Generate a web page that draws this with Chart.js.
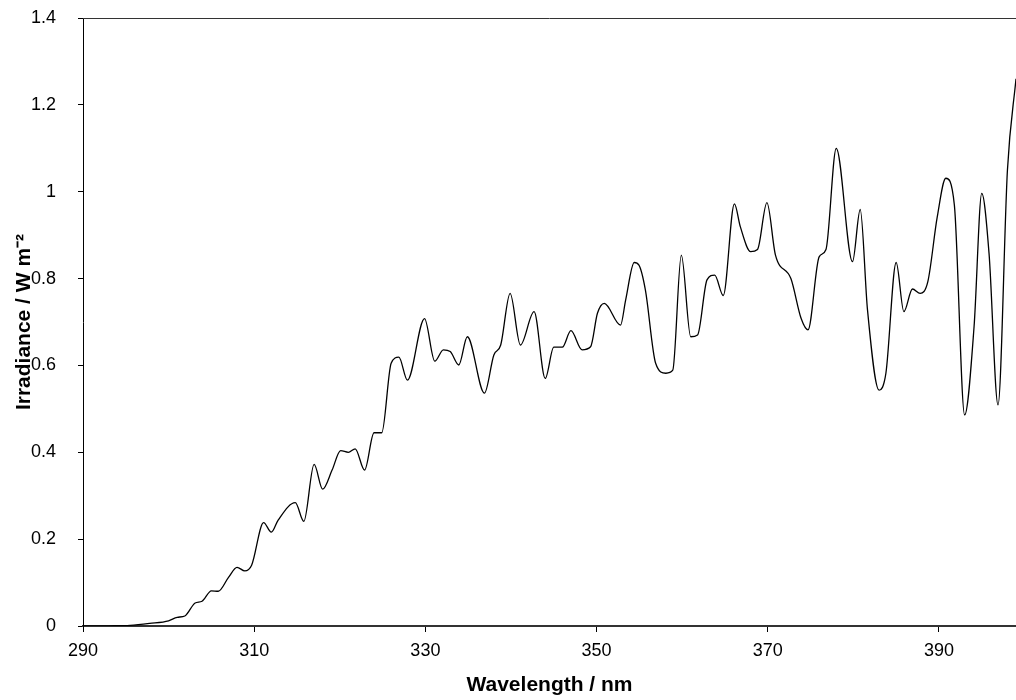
<!DOCTYPE html>
<html>
<head>
<meta charset="utf-8">
<script src="https://cdn.jsdelivr.net/npm/chart.js@4.4.1/dist/chart.umd.min.js"></script>
<style>
  html, body { margin: 0; padding: 0; background: #fff; }
  #wrap { width: 1016px; height: 700px; }
</style>
</head>
<body>
<div id="wrap"><canvas id="spectrumChart" width="1016" height="700"></canvas></div>
<script>
// values
const wavelength = [
  290, 293, 295.5, 297.8, 300, 301, 301.9, 303.1, 303.9, 305, 305.8, 307, 308, 308.9, 309.7,
  311.1, 312, 312.8, 314.8, 315.8, 317, 318, 319.1, 320.1, 321, 321.8, 322.9, 324, 324.9,
  326, 326.9, 327.9, 329.9, 331.1, 332.1, 332.9, 333.9, 334.9, 336.9, 338, 338.8, 339.9,
  341.1, 342.7, 344, 345, 346, 347, 348.3, 349.3, 350.1, 350.9, 352.8, 353.4, 354.4, 354.95,
  355.7, 356.9, 358.1, 358.9, 359.9, 361, 361.8, 362.9, 363.8, 364.8, 366.1, 366.8, 368,
  368.8, 369.9, 370.9, 372.7, 373.9, 374.7, 376, 376.8, 378, 379.9, 380.8, 381.65, 383,
  383.8, 385, 385.9, 386.9, 387.8, 388.7, 389.8, 390.8, 391.8, 393, 394.1, 395, 395.85,
  396.9, 398, 399
];
const irradiance = [
  0, 0.0005, 0.0015, 0.006, 0.012, 0.02, 0.023, 0.053, 0.057, 0.081, 0.08, 0.112, 0.135, 0.127, 0.14,
  0.238, 0.216, 0.244, 0.284, 0.241, 0.372, 0.315, 0.359, 0.404, 0.40, 0.408, 0.359, 0.445, 0.445,
  0.605, 0.619, 0.566, 0.708, 0.61, 0.636, 0.632, 0.601, 0.666, 0.536, 0.624, 0.647, 0.766,
  0.647, 0.724, 0.57, 0.642, 0.642, 0.68, 0.636, 0.643, 0.72, 0.743, 0.693, 0.751, 0.837, 0.831,
  0.774, 0.605, 0.582, 0.589, 0.854, 0.666, 0.67, 0.797, 0.808, 0.761, 0.972, 0.919, 0.862,
  0.867, 0.975, 0.854, 0.80, 0.708, 0.682, 0.85, 0.867, 1.10, 0.839, 0.959, 0.728, 0.543,
  0.582, 0.837, 0.724, 0.776, 0.766, 0.793, 0.942, 1.031, 0.969, 0.486, 0.689, 0.996, 0.858,
  0.509, 1.05, 1.26
];
const xTicks = [290, 310, 330, 350, 370, 390];
const yTicks = [0, 0.2, 0.4, 0.6, 0.8, 1, 1.2, 1.4];

const FONT = "'Liberation Sans', Arial, sans-serif";

// thin frame line along the top of the plot area
const topBorder = {
  id: 'topBorder',
  afterDraw(chart) {
    const { ctx, chartArea } = chart;
    ctx.save();
    ctx.strokeStyle = '#333';
    ctx.lineWidth = 1;
    ctx.beginPath();
    ctx.moveTo(chartArea.left, chartArea.top + 0.5);
    ctx.lineTo(chartArea.right, chartArea.top + 0.5);
    ctx.stroke();
    ctx.restore();
  }
};

const points = wavelength.map((w, i) => ({ x: w, y: irradiance[i] }));

new Chart(document.getElementById('spectrumChart').getContext('2d'), {
  type: 'line',
  data: {
    datasets: [{
      data: points,
      borderColor: '#000',
      borderWidth: 1.3,
      pointRadius: 0,
      fill: false,
      cubicInterpolationMode: 'monotone'
    }]
  },
  options: {
    responsive: false,
    animation: false,
    layout: { padding: { top: 18, right: 0, left: 0, bottom: 0 } },
    plugins: { legend: { display: false }, tooltip: { enabled: false } },
    scales: {
      x: {
        type: 'linear',
        min: 290,
        max: 399,
        afterBuildTicks: axis => { axis.ticks = xTicks.map(v => ({ value: v })); },
        afterFit: axis => { axis.height = 74; axis.paddingLeft = 0; axis.paddingRight = 0; },
        grid: { drawOnChartArea: false, drawTicks: true, tickLength: 6, color: '#000' },
        border: { display: true, color: '#333', width: 2 },
        ticks: { color: '#000', font: { family: FONT, size: 18 }, padding: 8, maxRotation: 0 },
        title: {
          display: true,
          text: 'Wavelength / nm',
          color: '#000',
          font: { family: FONT, size: 21, weight: 'bold' },
          padding: { top: 0, bottom: 2 }
        }
      },
      y: {
        min: 0,
        max: 1.4,
        afterBuildTicks: axis => { axis.ticks = yTicks.map(v => ({ value: v })); },
        afterFit: axis => { axis.width = 83; axis.paddingTop = 0; axis.paddingBottom = 0; },
        grid: { drawOnChartArea: false, drawTicks: true, tickLength: 5, color: '#000' },
        border: { display: true, color: '#000', width: 1 },
        ticks: { color: '#000', font: { family: FONT, size: 18 }, padding: 22, callback: v => String(v) },
        title: {
          display: true,
          text: 'Irradiance / W m⁻²',
          color: '#000',
          font: { family: FONT, size: 21, weight: 'bold' },
          padding: { top: 12, bottom: 0 }
        }
      }
    }
  },
  plugins: [topBorder]
});
</script>
</body>
</html>
